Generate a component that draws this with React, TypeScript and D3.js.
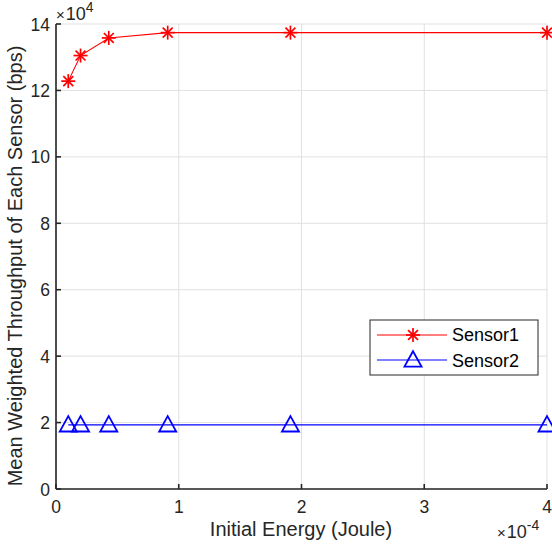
import React from "react";
import * as d3 from "d3";

const energy = [0.1, 0.2, 0.43, 0.91, 1.91, 4];
const sensor1 = [12.28, 13.05, 13.58, 13.74, 13.74, 13.74];
const sensor2 = [1.93, 1.93, 1.93, 1.93, 1.93, 1.93];
const xTicks = [0, 1, 2, 3, 4];
const yTicks = [0, 2, 4, 6, 8, 10, 12, 14];
const seriesNames = ["Sensor1", "Sensor2"];

const W = 552, H = 548;
const left = 56, right = 547, top = 24, bottom = 489;
const font = "'Liberation Sans', Arial, Helvetica, sans-serif";
const axisColor = "#262626";
const tickFs = 17.5;
const labelFs = 20;

export default function App() {
  const x = d3.scaleLinear().domain([0, 4]).range([left, right]);
  const y = d3.scaleLinear().domain([0, 14]).range([bottom, top]);
  const mk = d3.line<number>().x((_, i) => x(energy[i])).y((d) => y(d));
  const path1 = mk(sensor1) || "";
  const path2 = mk(sensor2) || "";

  const star = (cx: number, cy: number, key: string | number) => {
    const r = 7;
    const d = r * 0.707;
    return (
      <g key={key} stroke="#ff0000" strokeWidth={1.7}>
        <line x1={cx - r} y1={cy} x2={cx + r} y2={cy} />
        <line x1={cx} y1={cy - r} x2={cx} y2={cy + r} />
        <line x1={cx - d} y1={cy - d} x2={cx + d} y2={cy + d} />
        <line x1={cx - d} y1={cy + d} x2={cx + d} y2={cy - d} />
      </g>
    );
  };
  const tri = (cx: number, cy: number, key: string | number) => {
    const r = 8.8;
    return (
      <path
        key={key}
        d={`M${cx},${cy - r} L${cx + r * 0.97},${cy + r * 0.75} L${cx - r * 0.97},${cy + r * 0.75} Z`}
        fill="none"
        stroke="#0000ff"
        strokeWidth={1.8}
      />
    );
  };

  return (
    <svg width={W} height={H} style={{ position: "absolute", left: 0, top: 0, background: "#fff" }}>
      <rect x={0} y={0} width={W} height={H} fill="#fff" />
      {xTicks.map((t) => (
        <line key={"gx" + t} x1={x(t)} x2={x(t)} y1={top} y2={bottom} stroke="#e0e0e0" strokeWidth={1} />
      ))}
      {yTicks.map((t) => (
        <line key={"gy" + t} x1={left} x2={right} y1={y(t)} y2={y(t)} stroke="#e0e0e0" strokeWidth={1} />
      ))}
      <line x1={left} x2={left} y1={top} y2={bottom} stroke={axisColor} strokeWidth={1.6} />
      <line x1={left} x2={right} y1={bottom} y2={bottom} stroke={axisColor} strokeWidth={1.6} />
      {xTicks.map((t) => (
        <g key={"xt" + t}>
          <line x1={x(t)} x2={x(t)} y1={bottom} y2={bottom - 5} stroke={axisColor} strokeWidth={1.6} />
          <text x={x(t)} y={bottom + 24} textAnchor="middle" fontFamily={font} fontSize={tickFs} fill={axisColor}>
            {t}
          </text>
        </g>
      ))}
      {yTicks.map((t) => (
        <g key={"yt" + t}>
          <line x1={left} x2={left + 5} y1={y(t)} y2={y(t)} stroke={axisColor} strokeWidth={1.6} />
          <text x={left - 6} y={y(t) + 6.5} textAnchor="end" fontFamily={font} fontSize={tickFs} fill={axisColor}>
            {t}
          </text>
        </g>
      ))}
      <text x={56} y={20} fontFamily={font} fontSize={18} fill={axisColor}>
        <tspan fontSize={15}>×</tspan>
        <tspan dx={1}>10</tspan>
        <tspan dy={-8.5} fontSize={14}>4</tspan>
      </text>
      <text x={497} y={538} fontFamily={font} fontSize={18} fill={axisColor}>
        <tspan fontSize={15}>×</tspan>
        <tspan dx={1}>10</tspan>
        <tspan dy={-8.5} fontSize={14}>-4</tspan>
      </text>
      <text x={301} y={536} textAnchor="middle" fontFamily={font} fontSize={labelFs} fill={axisColor}>
        Initial Energy (Joule)
      </text>
      <text
        transform={`translate(22,266) rotate(-90)`}
        textAnchor="middle"
        fontFamily={font}
        fontSize={labelFs}
        fill={axisColor}
      >
        Mean Weighted Throughput of Each Sensor (bps)
      </text>
      <path d={path1} fill="none" stroke="#ff0000" strokeWidth={1.1} />
      <path d={path2} fill="none" stroke="#0000ff" strokeWidth={1.1} />
      {sensor1.map((v, i) => star(x(energy[i]), y(v), "s" + i))}
      {sensor2.map((v, i) => tri(x(energy[i]), y(v), "t" + i))}
      <rect x={370} y={320} width={168} height={55} fill="#fff" stroke={axisColor} strokeWidth={1} />
      <line x1={377} x2={447} y1={335} y2={335} stroke="#ff0000" strokeWidth={1.1} />
      {star(413, 335, "ls")}
      <text x={452} y={341} fontFamily={font} fontSize={18} fill="#000">{seriesNames[0]}</text>
      <line x1={377} x2={447} y1={360} y2={360} stroke="#0000ff" strokeWidth={1.1} />
      {tri(413, 360, "lt")}
      <text x={452} y={367} fontFamily={font} fontSize={18} fill="#000">{seriesNames[1]}</text>
    </svg>
  );
}
